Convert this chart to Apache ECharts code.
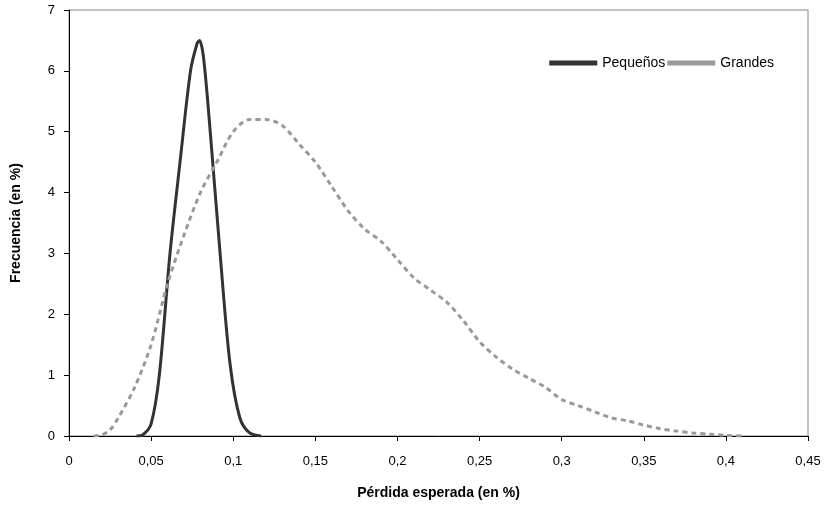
<!DOCTYPE html><html><head><meta charset="utf-8">
<script src="https://cdn.jsdelivr.net/npm/echarts@6/dist/echarts.min.js"></script>
<style>body{margin:0;background:#fff}#c{width:827px;height:506px}</style></head><body><div id="c"></div>
<script>
const pequenosX=[0.041,0.045,0.05,0.055,0.0615,0.0676,0.074,0.078,0.0795,0.082,0.086,0.092,0.098,0.104,0.11,0.117];
const pequenosY=[0,0.02,0.2,1.0,3.0,4.5,6.0,6.45,6.5,6.2,5.0,3.0,1.2,0.3,0.05,0];
const grandesX=[0.015,0.02,0.025,0.03,0.04,0.05,0.06,0.07,0.08,0.09,0.1,0.11,0.12,0.13,0.14,0.15,0.16,0.17,0.18,0.19,0.2,0.21,0.22,0.23,0.24,0.25,0.26,0.27,0.28,0.29,0.3,0.31,0.32,0.33,0.34,0.35,0.36,0.37,0.38,0.39,0.4,0.41];
const grandesY=[0,0.02,0.1,0.3,0.8,1.5,2.5,3.3,4.0,4.5,5.0,5.2,5.2,5.1,4.8,4.5,4.1,3.7,3.4,3.2,2.9,2.6,2.4,2.2,1.9,1.55,1.3,1.1,0.95,0.8,0.6,0.5,0.4,0.3,0.25,0.18,0.12,0.08,0.05,0.03,0.01,0];
const zip=(a,b)=>a.map((v,i)=>[v,b[i]]);
const fmt=v=>String(+v.toFixed(2)).replace('.',',');
const f="Liberation Sans";
echarts.init(document.getElementById('c')).setOption({
animation:false,
textStyle:{fontFamily:f},
grid:{left:69,right:19,top:10,bottom:70,outerBoundsMode:'none',containLabel:false,show:true,borderColor:'#888',borderWidth:1},
legend:{top:51,right:48,itemGap:2,itemWidth:48,textStyle:{fontFamily:f,fontSize:14,color:'#000'},
 data:[{name:'Pequeños',icon:'path://M0,0H10V1H0Z'},{name:'Grandes',icon:'path://M0,0H10V1H0Z'}]},
xAxis:{type:'value',min:0,max:0.45,interval:0.05,name:'Pérdida esperada (en %)',nameLocation:'middle',nameGap:50,
 nameTextStyle:{fontWeight:'bold',fontSize:14,color:'#000'},
 axisLine:{lineStyle:{color:'#000'}},axisTick:{lineStyle:{color:'#000'}},axisLabel:{color:'#000',fontSize:13,margin:19,formatter:fmt},splitLine:{show:false}},
yAxis:{type:'value',min:0,max:7,interval:1,name:'Frecuencia (en %)',nameLocation:'middle',nameGap:46,
 nameTextStyle:{fontWeight:'bold',fontSize:14,color:'#000'},
 axisLine:{show:true,lineStyle:{color:'#000'}},axisTick:{show:true,lineStyle:{color:'#000'}},axisLabel:{color:'#000',fontSize:13,margin:14},splitLine:{show:false}},
series:[
{name:'Pequeños',type:'line',smooth:0.3,symbol:'none',data:zip(pequenosX,pequenosY),lineStyle:{color:'#333',width:3},itemStyle:{color:'#333'}},
{name:'Grandes',type:'line',smooth:0.3,symbol:'none',data:zip(grandesX,grandesY),lineStyle:{color:'#999',width:3,type:[5,4]},itemStyle:{color:'#999'}}
]});
</script></body></html>
